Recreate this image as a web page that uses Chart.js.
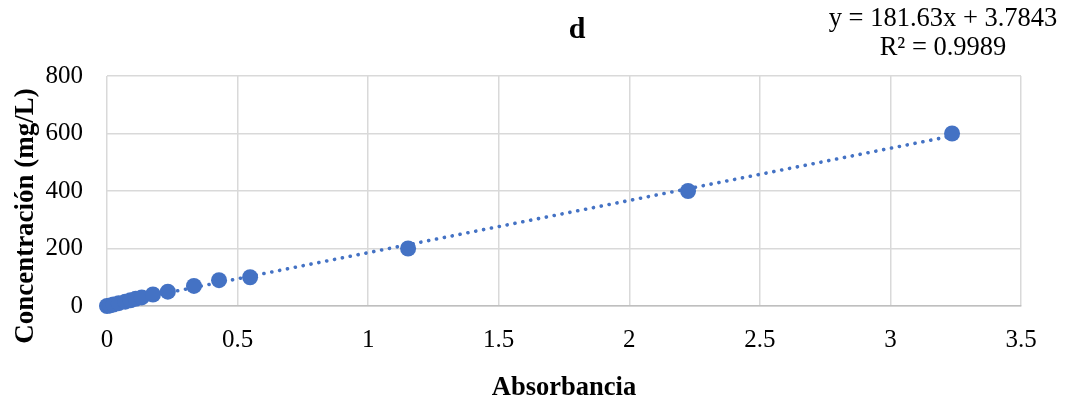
<!DOCTYPE html>
<html>
<head>
<meta charset="utf-8">
<script src="https://cdn.jsdelivr.net/npm/chart.js@4.4.1/dist/chart.umd.min.js"></script>
<style>
html,body{margin:0;padding:0;background:#fff;}
#wrap{position:relative;width:1067px;height:405px;}
</style>
</head>
<body>
<div id="wrap"><canvas id="c" width="1067" height="405"></canvas></div>
<script>
// Data
const absorbance = [0, 0.012, 0.025, 0.045, 0.07, 0.09, 0.11, 0.133, 0.176, 0.233, 0.333, 0.429, 0.548, 1.153, 2.225, 3.236];
const concentration = [0, 2, 5, 10, 15, 20, 25, 30, 40, 50, 70, 90, 100, 200, 400, 600];
const xTicks = [0, 0.5, 1, 1.5, 2, 2.5, 3, 3.5];
const yTicks = [0, 200, 400, 600, 800];
const slope = 181.63;
const intercept = 3.7843;
const rSquared = 0.9989;
const chartTitle = 'd';
const xTitle = 'Absorbancia';
const yTitle = 'Concentración (mg/L)';

const points = absorbance.map((x, i) => ({x: x, y: concentration[i]}));
const xMin = absorbance[0], xMax = absorbance[absorbance.length - 1];
const trend = [{x: xMin, y: slope * xMin + intercept}, {x: xMax, y: slope * xMax + intercept}];

const BLUE = '#4472C4';
const SERIF = '"Liberation Serif", "Times New Roman", serif';

const textPlugin = {
  id: 'texts',
  afterDraw(chart) {
    const ctx = chart.ctx;
    ctx.save();
    ctx.fillStyle = '#000';
    ctx.textAlign = 'center';
    ctx.textBaseline = 'middle';
    ctx.font = 'bold 30px ' + SERIF;
    ctx.fillText(chartTitle, 577, 30);
    ctx.font = '26.5px ' + SERIF;
    ctx.fillText('y = ' + slope + 'x + ' + intercept, 943, 19);
    ctx.fillText('R\u00B2 = ' + rSquared, 943, 48);
    // y-axis title
    ctx.translate(26, 216);
    ctx.rotate(-Math.PI / 2);
    ctx.font = 'bold 27px ' + SERIF;
    ctx.fillText(yTitle, 0, 0);
    ctx.restore();
  }
};

new Chart(document.getElementById('c'), {
  type: 'scatter',
  data: {
    datasets: [
      {
        label: 'trend',
        type: 'line',
        data: trend,
        borderColor: BLUE,
        borderWidth: 3.6,
        borderDash: [0.1, 7.9],
        borderCapStyle: 'round',
        pointRadius: 0,
        fill: false,
        order: 2
      },
      {
        label: 'data',
        data: points,
        backgroundColor: BLUE,
        borderColor: BLUE,
        borderWidth: 0,
        pointRadius: 8,
        pointHoverRadius: 8,
        clip: false,
        order: 1
      }
    ]
  },
  options: {
    responsive: false,
    animation: false,
    events: [],
    layout: {padding: {top: 76, right: 46, bottom: 0, left: 0}},
    plugins: {legend: {display: false}, title: {display: false}, tooltip: {enabled: false}},
    scales: {
      x: {
        type: 'linear',
        min: 0, max: 3.5,
        afterBuildTicks(s) { s.ticks = xTicks.map(v => ({value: v})); },
        afterFit(s) { s.height = 99; },
        grid: {color: '#d9d9d9', lineWidth: 1.5, drawTicks: false},
        border: {color: '#bfbfbf', width: 1.5},
        ticks: {color: '#000', font: {family: SERIF, size: 25}, padding: 19, maxRotation: 0,
                callback: v => String(v)},
        title: {display: true, text: xTitle, color: '#000', font: {family: SERIF, size: 26.5, weight: 'bold'}, padding: {top: 0, bottom: 1}}
      },
      y: {
        type: 'linear',
        min: 0, max: 800,
        afterBuildTicks(s) { s.ticks = yTicks.map(v => ({value: v})); },
        afterFit(s) { s.width = 107; },
        grid: {color: '#d9d9d9', lineWidth: 1.5, drawTicks: false},
        border: {display: false},
        ticks: {color: '#000', font: {family: SERIF, size: 25}, padding: 24, callback: v => String(v)},
        title: {display: false}
      }
    }
  },
  plugins: [textPlugin]
});
</script>
</body>
</html>
